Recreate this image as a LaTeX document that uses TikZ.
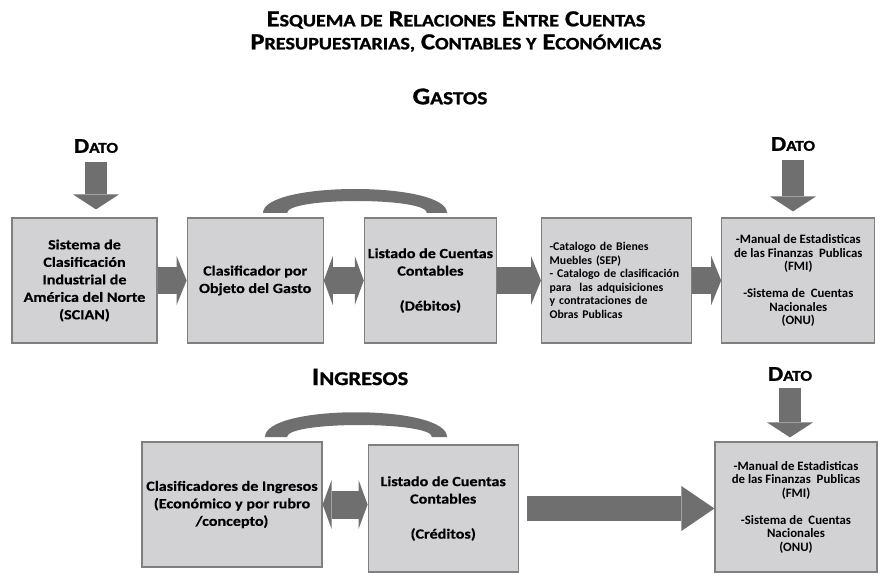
\documentclass[tikz,border=0pt]{standalone}
\usepackage{fontspec}
\setmainfont{Carlito}
\newfontfamily\headfont[FakeStretch=1.15, FakeBold=1.2]{Carlito}
\newfontfamily\boxfont[FakeStretch=1.15, FakeBold=0.5]{Carlito}
\usepackage{tikz}
\usetikzlibrary{positioning, calc, arrows.meta}
\definecolor{boxfill}{HTML}{D2D2D4}
\definecolor{boxline}{HTML}{7F7F7F}
\definecolor{arrowfill}{HTML}{6F6F6F}
\def\smlsize{15}
\newcommand{\sml}[1]{{\fontsize{\smlsize}{\smlsize}\selectfont #1}}

\begin{document}
\begin{tikzpicture}[x=1pt, y=-1pt,
        box/.style = {draw=boxline, fill=boxfill, line width=1.2pt, minimum height=125pt, inner sep=2pt, align=center, font=\boxfont\bfseries\fontsize{14}{17.5}\selectfont},
        boxsmall/.style = {font=\bfseries\fontsize{12.8}{13.5}\selectfont},
        catalog/.style = {font=\bfseries\fontsize{11.8}{13.6}\selectfont, text width=134pt, align=left},
        caption/.style = {inner sep=1pt, align=center, font=\headfont\bfseries\fontsize{21}{23}\selectfont\def\smlsize{15}},
        bigcaption/.style = {caption, font=\headfont\bfseries\fontsize{23}{23}\selectfont\def\smlsize{17.5}},
        flow/.style = {draw=arrowfill, line width=26pt, -{Triangle[length=10pt, width=49pt, line width=0pt]}},
        flowboth/.style = {draw=arrowfill, line width=26pt, {Triangle[length=9pt, width=49pt, line width=0pt]}-{Triangle[length=9pt, width=49pt, line width=0pt]}},
        datoarrow/.style = {draw=arrowfill, line width=22pt, -{Triangle[length=15pt, width=46pt, line width=0pt]}},
        band/.style = {fill=arrowfill}]
        \useasboundingbox (0,0) rectangle (883,577);
        \node[bigcaption] (title) at (456,31.5) {E\sml{SQUEMA DE} R\sml{ELACIONES} E\sml{NTRE} C\sml{UENTAS}\\P\sml{RESUPUESTARIAS,} C\sml{ONTABLES Y} E\sml{CONÓMICAS}};
        \node[bigcaption, font=\headfont\bfseries\fontsize{24}{24}\selectfont\def\smlsize{18.5}] (gastos) at (450,96.5) {G\sml{ASTOS}};
        \node[caption] (dato1) at (96,146) {D\sml{ATO}};
        \node[caption] (dato2) at (793,144) {D\sml{ATO}};
        \node[box, minimum width=145pt] (A) at (84.5,280.5) {Sistema de\\Clasificación\\Industrial de\\América del Norte\\(SCIAN)};
        \node[box, minimum width=136pt, right=29pt of A] (B) {Clasificador por\\Objeto del Gasto};
        \node[box, minimum width=132pt, right=40pt of B] (C) {Listado de Cuentas\\Contables\\\\(Débitos)};
        \node[box, catalog, minimum width=150pt, right=44pt of C] (D) {-Catalogo de Bienes\\Muebles (SEP)\\- Catalogo de \mbox{clasificación}\\para \ las adquisiciones\\y contrataciones de\\Obras Publicas};
        \node[box, boxsmall, minimum width=153pt, right=29pt of D] (E) {-Manual de Estadisticas\\de las Finanzas \ Publicas\\(FMI)\\\\-Sistema de \ Cuentas\\Nacionales\\(ONU)};
        \node[bigcaption, font=\headfont\bfseries\fontsize{25}{25}\selectfont\def\smlsize{19.5}] (ingresos) at (360,377) {I\sml{NGRESOS}};
        \node[caption] (dato3) at (790,374) {D\sml{ATO}};
        \node[box, minimum width=180pt] (F) at (232,504.5) {Clasificadores de Ingresos\\(Económico y por rubro\\/concepto)};
        \node[box, minimum width=150pt, minimum height=127pt, right=45pt of F, yshift=-4pt] (G) {Listado de Cuentas\\Contables\\\\(Créditos)};
        \node[box, boxsmall, minimum width=162pt, minimum height=130pt] (H) at (796,507) {-Manual de Estadisticas\\de las Finanzas \ Publicas\\(FMI)\\\\-Sistema de \ Cuentas\\Nacionales\\(ONU)};
        \draw[datoarrow, shorten <=8pt, shorten >=8pt] (dato1) -- (dato1 |- A.north);
        \draw[datoarrow, shorten <=8pt, shorten >=6pt] (dato2) -- (dato2 |- E.north);
        \draw[datoarrow, shorten <=6pt, shorten >=4pt] (dato3) -- (dato3 |- H.north);
        \draw[flow] (A) -- (B);
        \draw[flowboth] (B) -- (C);
        \draw[flow] (C) -- (D);
        \draw[flow] (D) -- (E);
        \draw[flowboth, line width=28pt] (F.east) -- (F.east -| G.west);
        \draw[flow, line width=25pt, -{Triangle[length=33pt, width=45pt, line width=0pt]}, shorten <=8pt] (G.east) -- (G.east -| H.west);
        \fill[band] (263,213) .. controls (263,181) and (447,181) .. (447,213) -- (427,213) .. controls (427,197) and (287,197) .. (287,213) -- cycle;
        \fill[band] (265,437) .. controls (265,404) and (447,404) .. (447,437) -- (432,437) .. controls (432,421) and (287,421) .. (287,437) -- cycle;
\end{tikzpicture}
\end{document}
